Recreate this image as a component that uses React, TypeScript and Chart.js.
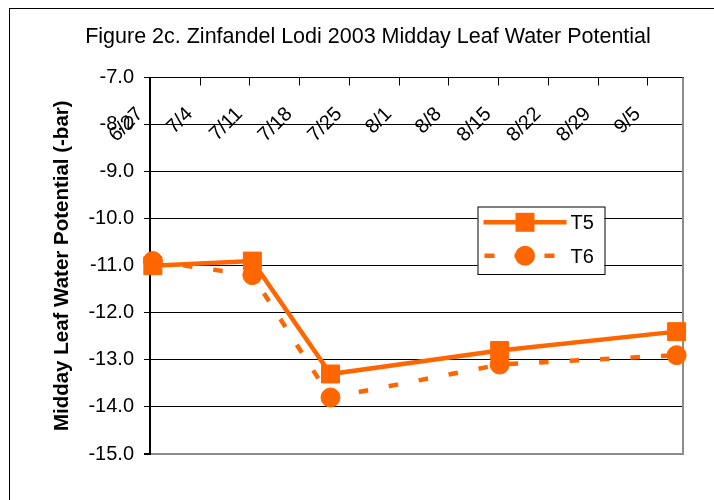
import React, { useEffect, useRef } from 'react';
import { Chart, registerables } from 'chart.js';

Chart.register(...registerables);

const FONT = "'Liberation Sans', Arial, Helvetica, sans-serif";
const ORANGE = '#FF6600';

// Dates as day-of-year 2003 (6/27 = 178)
const tickDays = [178, 185, 192, 199, 206, 213, 220, 227, 234, 241, 248];
const tickLabels = ['6/27', '7/4', '7/11', '7/18', '7/25', '8/1', '8/8', '8/15', '8/22', '8/29', '9/5'];
const xMin = 178;
const xMax = 253;

const sampleDays = [178.4, 192.4, 203.4, 227.2, 252.1];
const t5Values = [-11.0, -10.9, -13.3, -12.8, -12.4];
const t6Values = [-10.9, -11.2, -13.8, -13.1, -12.9];

const seriesNames = ['T5', 'T6'];
const yMin = -15;
const yMax = -7;
const yStep = 1;

const titleText = 'Figure 2c. Zinfandel Lodi 2003 Midday Leaf Water Potential';
const yTitle = 'Midday Leaf Water Potential (-bar)';

const T6_DASH = [9.5, 21];

const decorPlugin = {
  id: 'decor',
  beforeDraw(chart: any) {
    const { ctx, width, height } = chart;
    ctx.save();
    ctx.fillStyle = '#fff';
    ctx.fillRect(0, 0, width, height);
    ctx.fillStyle = '#000';
    ctx.fillRect(9, 8, 1, height - 8);
    ctx.fillRect(9, 8, width - 9, 1);
    ctx.restore();
  },
  beforeDatasetsDraw(chart: any) {
    const { ctx, chartArea: ca, scales } = chart;
    const xs = scales.x;
    ctx.save();
    // right plot border
    ctx.strokeStyle = '#8c8c8c';
    ctx.lineWidth = 2;
    ctx.beginPath();
    ctx.moveTo(ca.right, ca.top);
    ctx.lineTo(ca.right, ca.bottom + 1);
    ctx.stroke();
    // top axis tick marks (inside)
    ctx.strokeStyle = '#000';
    ctx.lineWidth = 1;
    tickDays.forEach((d) => {
      const px = Math.round(xs.getPixelForValue(d)) + 0.5;
      ctx.beginPath();
      ctx.moveTo(px, ca.top);
      ctx.lineTo(px, ca.top + 8);
      ctx.stroke();
    });
    // rotated tick labels
    ctx.fillStyle = '#000';
    ctx.font = `20px ${FONT}`;
    ctx.textAlign = 'right';
    ctx.textBaseline = 'middle';
    tickDays.forEach((d, i) => {
      const px = xs.getPixelForValue(d) - 10;
      const py = ca.top + 33.5;
      ctx.save();
      ctx.translate(px, py);
      ctx.rotate(-Math.PI / 4);
      ctx.fillText(tickLabels[i], 0, 0);
      ctx.restore();
    });
    ctx.restore();
  },
  afterDatasetsDraw(chart: any) {
    const { ctx, chartArea: ca } = chart;
    const lx = ca.left + 327.5;
    const ly = ca.top + 129;
    const lw = 127;
    const lh = 67.5;
    ctx.save();
    ctx.fillStyle = '#fff';
    ctx.fillRect(lx, ly, lw, lh);
    ctx.strokeStyle = '#000';
    ctx.lineWidth = 1;
    ctx.strokeRect(lx + 0.5, ly + 0.5, lw, lh);

    const x1 = lx + 6;
    const x2 = lx + 89;
    const mx = lx + 47.5;
    const rows = [ly + 15.8, ly + 49.2];
    // T5
    ctx.strokeStyle = ORANGE;
    ctx.fillStyle = ORANGE;
    ctx.lineWidth = 4.5;
    ctx.setLineDash([]);
    ctx.beginPath();
    ctx.moveTo(x1, rows[0]);
    ctx.lineTo(x2, rows[0]);
    ctx.stroke();
    ctx.fillRect(mx - 9.5, rows[0] - 9.5, 19, 19);
    // T6
    ctx.setLineDash([10, 20]);
    ctx.beginPath();
    ctx.moveTo(x1 + 1, rows[1]);
    ctx.lineTo(x2, rows[1]);
    ctx.stroke();
    ctx.setLineDash([]);
    ctx.beginPath();
    ctx.arc(mx, rows[1], 10, 0, Math.PI * 2);
    ctx.fill();
    // text
    ctx.fillStyle = '#000';
    ctx.font = `20px ${FONT}`;
    ctx.textAlign = 'left';
    ctx.textBaseline = 'middle';
    ctx.fillText(seriesNames[0], lx + 93, rows[0] + 1.5);
    ctx.fillText(seriesNames[1], lx + 93, rows[1] + 1.5);
    ctx.restore();
  },
};

export default function App() {
  const ref = useRef<HTMLCanvasElement>(null);
  useEffect(() => {
    const canvas = ref.current;
    if (!canvas) return;
    const chart = new Chart(canvas, {
      type: 'line',
      data: {
        datasets: [
          {
            label: seriesNames[1],
            data: sampleDays.map((d, i) => ({ x: d, y: t6Values[i] })),
            borderColor: ORANGE,
            backgroundColor: ORANGE,
            borderWidth: 4.5,
            borderDash: T6_DASH,
            pointStyle: 'circle',
            pointRadius: 9.5,
            pointBorderWidth: 1,
            pointBackgroundColor: ORANGE,
            pointBorderColor: ORANGE,
            tension: 0,
            clip: false,
          } as any,
          {
            label: seriesNames[0],
            data: sampleDays.map((d, i) => ({ x: d, y: t5Values[i] })),
            borderColor: ORANGE,
            backgroundColor: ORANGE,
            borderWidth: 4.5,
            pointStyle: 'rect',
            pointRadius: 12.7,
            pointBorderWidth: 1,
            pointBackgroundColor: ORANGE,
            pointBorderColor: ORANGE,
            tension: 0,
            clip: false,
          } as any,
        ],
      },
      options: {
        responsive: false,
        animation: false,
        events: [],
        layout: { padding: { left: 53, right: 31, top: 24.1, bottom: 46 } },
        plugins: {
          legend: { display: false },
          tooltip: { enabled: false },
          title: {
            display: true,
            text: titleText,
            color: '#000',
            font: { family: FONT, size: 21.5, weight: 'normal' },
            padding: { top: 0, bottom: 27.6 },
          },
        },
        scales: {
          x: {
            type: 'linear',
            position: 'top',
            min: xMin,
            max: xMax,
            grid: { display: false },
            ticks: { display: false },
            border: { display: true, color: '#000', width: 1 },
            afterFit: (s: any) => {
              s.height = 0;
            },
          },
          y: {
            type: 'linear',
            min: yMin,
            max: yMax,
            ticks: {
              stepSize: yStep,
              callback: (v: any) => Number(v).toFixed(1),
              color: '#000',
              font: { family: FONT, size: 20 },
              padding: 10,
            },
            grid: {
              color: (c: any) => (c.tick && c.tick.value === yMin ? '#8c8c8c' : '#000'),
              lineWidth: (c: any) => (c.tick && c.tick.value === yMin ? 2 : 1),
              tickColor: '#000',
              tickLength: 6,
            },
            border: { display: true, color: '#000', width: 2 },
            title: {
              display: true,
              text: yTitle,
              color: '#000',
              font: { family: FONT, size: 20.5, weight: 'bold', lineHeight: 0.9 },
              padding: 0,
            },
            afterFit: (s: any) => {
              s.width = 97;
            },
          },
        },
      } as any,
      plugins: [decorPlugin],
    });
    return () => chart.destroy();
  }, []);
  return (
    <div style={{ position: 'absolute', left: 0, top: 0, width: 714, height: 500 }}>
      <canvas ref={ref} width={714} height={500} style={{ display: 'block', width: 714, height: 500 }} />
    </div>
  );
}
